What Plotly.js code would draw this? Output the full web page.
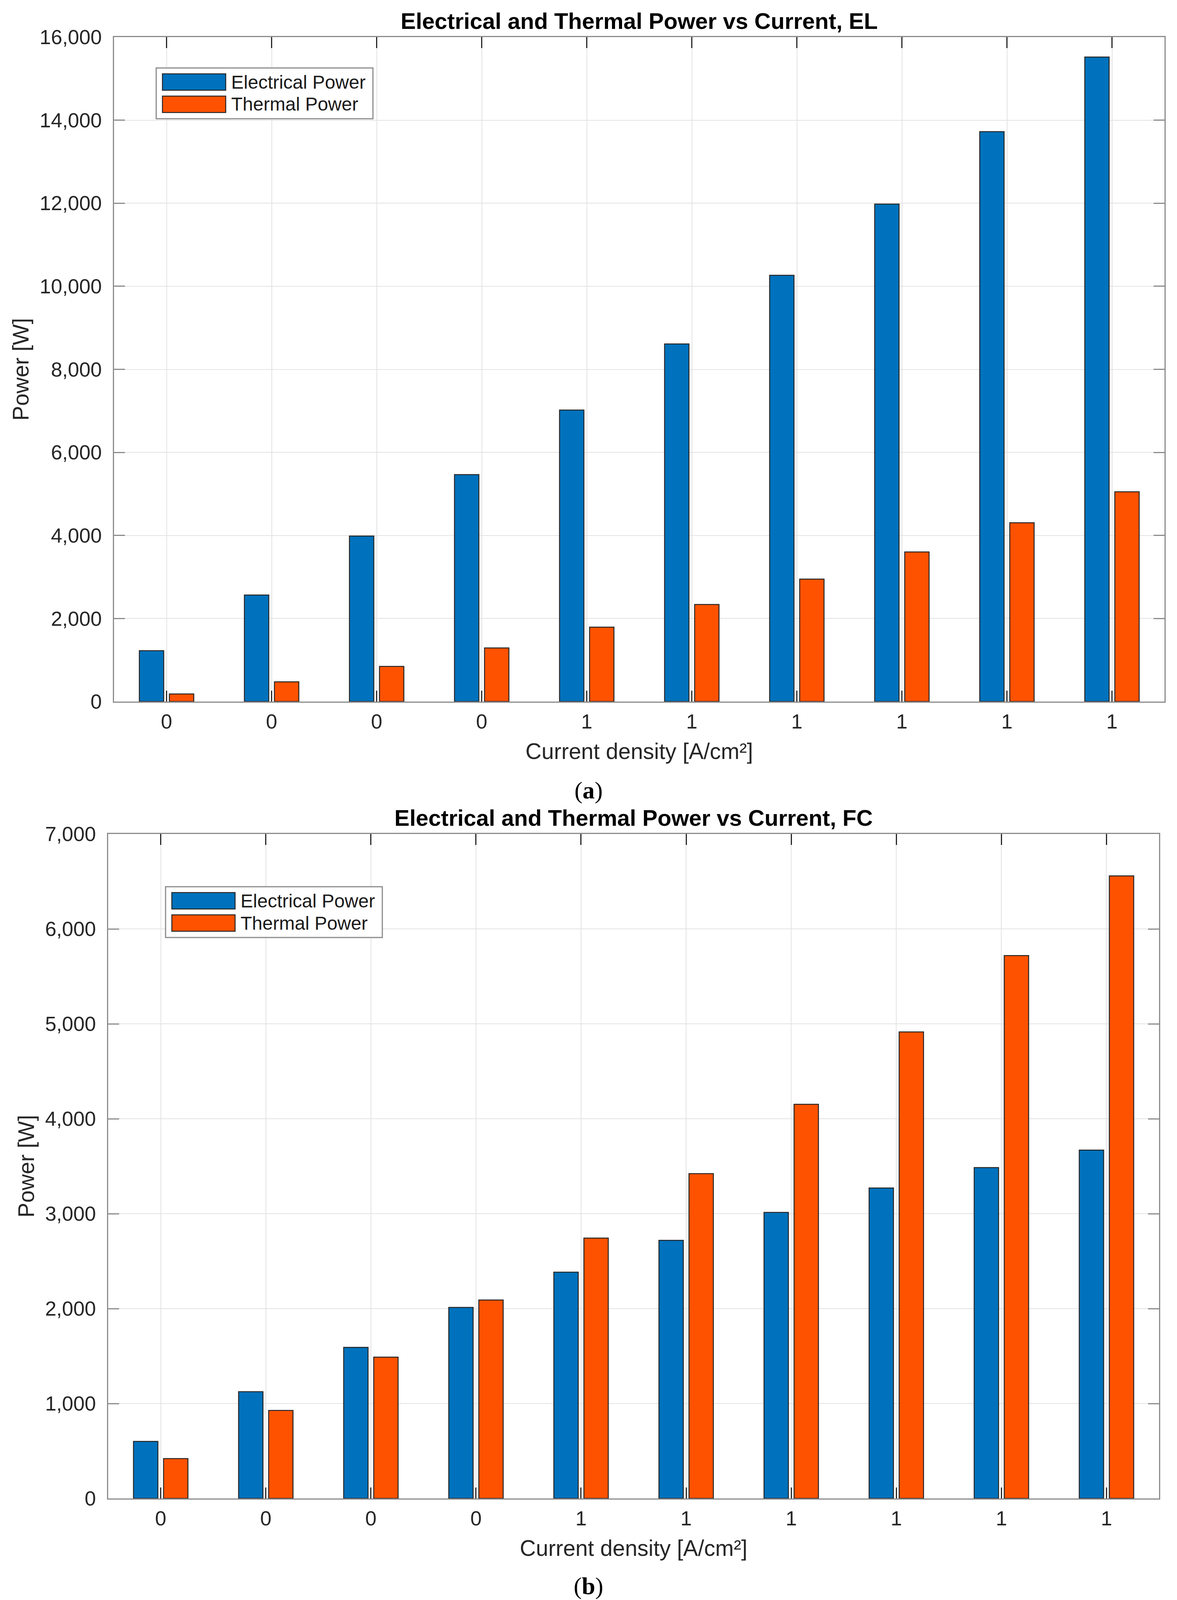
<!DOCTYPE html>
<html>
<head>
<meta charset="utf-8">
<script src="https://cdn.plot.ly/plotly-3.0.1.min.js"></script>
<style>
  html, body { margin: 0; padding: 0; background: #ffffff; }
</style>
</head>
<body>
<div id="graphDiv"></div>
<script>
// ---- chart data ----
let currentLabels = ['0', '0', '0', '0', '1', '1', '1', '1', '1', '1']; // tick labels as printed
let categoryPos = [1, 2, 3, 4, 5, 6, 7, 8, 9, 10];                      // bar group index
let seriesNames = ['Electrical Power', 'Thermal Power'];

let elElectrical = [1224, 2566, 3985, 5464, 7020, 8612, 10265, 11980, 13724, 15520];
let elThermal    = [184, 474, 847, 1291, 1791, 2337, 2949, 3602, 4306, 5051];
let fcElectrical = [601, 1124, 1592, 2012, 2384, 2719, 3013, 3271, 3486, 3670];
let fcThermal    = [420, 927, 1489, 2091, 2743, 3422, 4152, 4915, 5719, 6559];

let panelTitles = ['Electrical and Thermal Power vs Current, EL', 'Electrical and Thermal Power vs Current, FC'];
let panelCaptions = ['(<b>a</b>)', '(<b>b</b>)'];
let xTitle = 'Current density [A/cm²]';
let yTitle = 'Power [W]';

// ---- page geometry ----
const W = 3014;
const H = 4123;
const colors = ['#0072BD', '#FF5200'];
const fontFamily = 'Liberation Sans, Arial, Helvetica, sans-serif';
const textColor = '#262626';

function px(x) { return x / W; }          // pixel -> paper x
function py(y) { return 1 - y / H; }      // pixel -> paper y (from top)

// plot boxes in pixels: left, right, top, bottom
let panels = [
    { l: 292, r: 2982, t: 95,   b: 1796, ymax: 16000, dtick: 2000, legL: 400, legT: 174, caption: 2023 },
    { l: 277, r: 2968, t: 2135, b: 3836, ymax: 7000,  dtick: 1000, legL: 424, legT: 2270, caption: 4060 }
];

function makeAxes(p, idx) {
    let xa = {
        domain: [px(p.l), px(p.r)],
        range: [0.5, 10.5],
        tickvals: categoryPos,
        ticktext: currentLabels,
        ticks: 'inside', ticklen: 28, tickwidth: 3, tickcolor: textColor,
        showline: true, linecolor: '#8c8c8c', linewidth: 3, mirror: 'ticks',
        showgrid: true, gridcolor: '#e3e3e3', gridwidth: 2,
        zeroline: false, fixedrange: true, automargin: false,
        tickfont: { family: fontFamily, size: 52, color: textColor },
        ticklabelstandoff: 4,
        title: { text: xTitle, standoff: 28, font: { family: fontFamily, size: 57, color: textColor } },
        anchor: idx === 0 ? 'y' : 'y2'
    };
    let ya = {
        domain: [py(p.b), py(p.t)],
        range: [0, p.ymax],
        dtick: p.dtick, tick0: 0,
        tickformat: ',',
        ticks: 'inside', ticklen: 28, tickwidth: 3, tickcolor: '#8c8c8c',
        showline: true, linecolor: '#8c8c8c', linewidth: 3, mirror: 'ticks',
        showgrid: true, gridcolor: '#e3e3e3', gridwidth: 2,
        zeroline: false, fixedrange: true, automargin: false,
        tickfont: { family: fontFamily, size: 52, color: textColor },
        ticklabelstandoff: 18,
        title: { text: yTitle, standoff: 10, font: { family: fontFamily, size: 57, color: textColor } },
        anchor: idx === 0 ? 'x' : 'x2'
    };
    return [xa, ya];
}

function barTrace(yvals, s, idx) {
    return {
        type: 'bar',
        name: seriesNames[s],
        x: categoryPos,
        y: yvals,
        xaxis: idx === 0 ? 'x' : 'x2',
        yaxis: idx === 0 ? 'y' : 'y2',
        marker: { color: colors[s], line: { color: textColor, width: 2.5 } },
        showlegend: false,
        hoverinfo: 'skip'
    };
}

// legend box drawn like the MATLAB one (wide swatches)
function legendParts(p) {
    let shapes = [];
    let notes = [];
    shapes.push({
        type: 'rect', xref: 'paper', yref: 'paper',
        x0: px(p.legL), x1: px(p.legL + 555), y0: py(p.legT + 130), y1: py(p.legT),
        fillcolor: '#ffffff', line: { color: '#8c8c8c', width: 3 }
    });
    for (let s = 0; s < seriesNames.length; s++) {
        let top = p.legT + 15 + s * 57;
        shapes.push({
            type: 'rect', xref: 'paper', yref: 'paper',
            x0: px(p.legL + 16), x1: px(p.legL + 178), y0: py(top + 42), y1: py(top),
            fillcolor: colors[s], line: { color: textColor, width: 2.5 }
        });
        notes.push({
            text: seriesNames[s], xref: 'paper', yref: 'paper',
            x: px(p.legL + 190), y: py(top + 21), xanchor: 'left', yanchor: 'middle',
            showarrow: false, font: { family: fontFamily, size: 48, color: '#1a1a1a' }
        });
    }
    return [shapes, notes];
}

function init() {
    let graphDiv = document.getElementById('graphDiv');
    let data = [
        barTrace(elElectrical, 0, 0), barTrace(elThermal, 1, 0),
        barTrace(fcElectrical, 0, 1), barTrace(fcThermal, 1, 1)
    ];

    let layout = {
        width: W, height: H,
        margin: { l: 0, r: 0, t: 0, b: 0 },
        paper_bgcolor: '#ffffff', plot_bgcolor: '#ffffff',
        barmode: 'group', bargap: 0.428, bargroupgap: 0.189,
        separators: '.,',
        showlegend: false,
        font: { family: fontFamily, color: textColor },
        shapes: [],
        annotations: []
    };

    panels.forEach(function (p, idx) {
        let axes = makeAxes(p, idx);
        layout[idx === 0 ? 'xaxis' : 'xaxis2'] = axes[0];
        layout[idx === 0 ? 'yaxis' : 'yaxis2'] = axes[1];
        let cx = px((p.l + p.r) / 2);

        // panel title and caption
        layout.annotations.push({
            text: panelTitles[idx], xref: 'paper', yref: 'paper',
            x: cx, y: py(p.t - 42), xanchor: 'center', yanchor: 'middle', showarrow: false,
            font: { family: fontFamily, size: 58, weight: 'bold', color: '#000000' }
        });
        layout.annotations.push({
            text: panelCaptions[idx], xref: 'paper', yref: 'paper',
            x: 0.5, y: py(p.caption), xanchor: 'center', yanchor: 'middle', showarrow: false,
            font: { family: 'Liberation Serif, Times New Roman, serif', size: 62, color: '#000000' }
        });

        let leg = legendParts(p);
        layout.shapes = layout.shapes.concat(leg[0]);
        layout.annotations = layout.annotations.concat(leg[1]);
    });

    Plotly.newPlot(graphDiv, data, layout, { staticPlot: true });
}

init();
</script>
</body>
</html>
